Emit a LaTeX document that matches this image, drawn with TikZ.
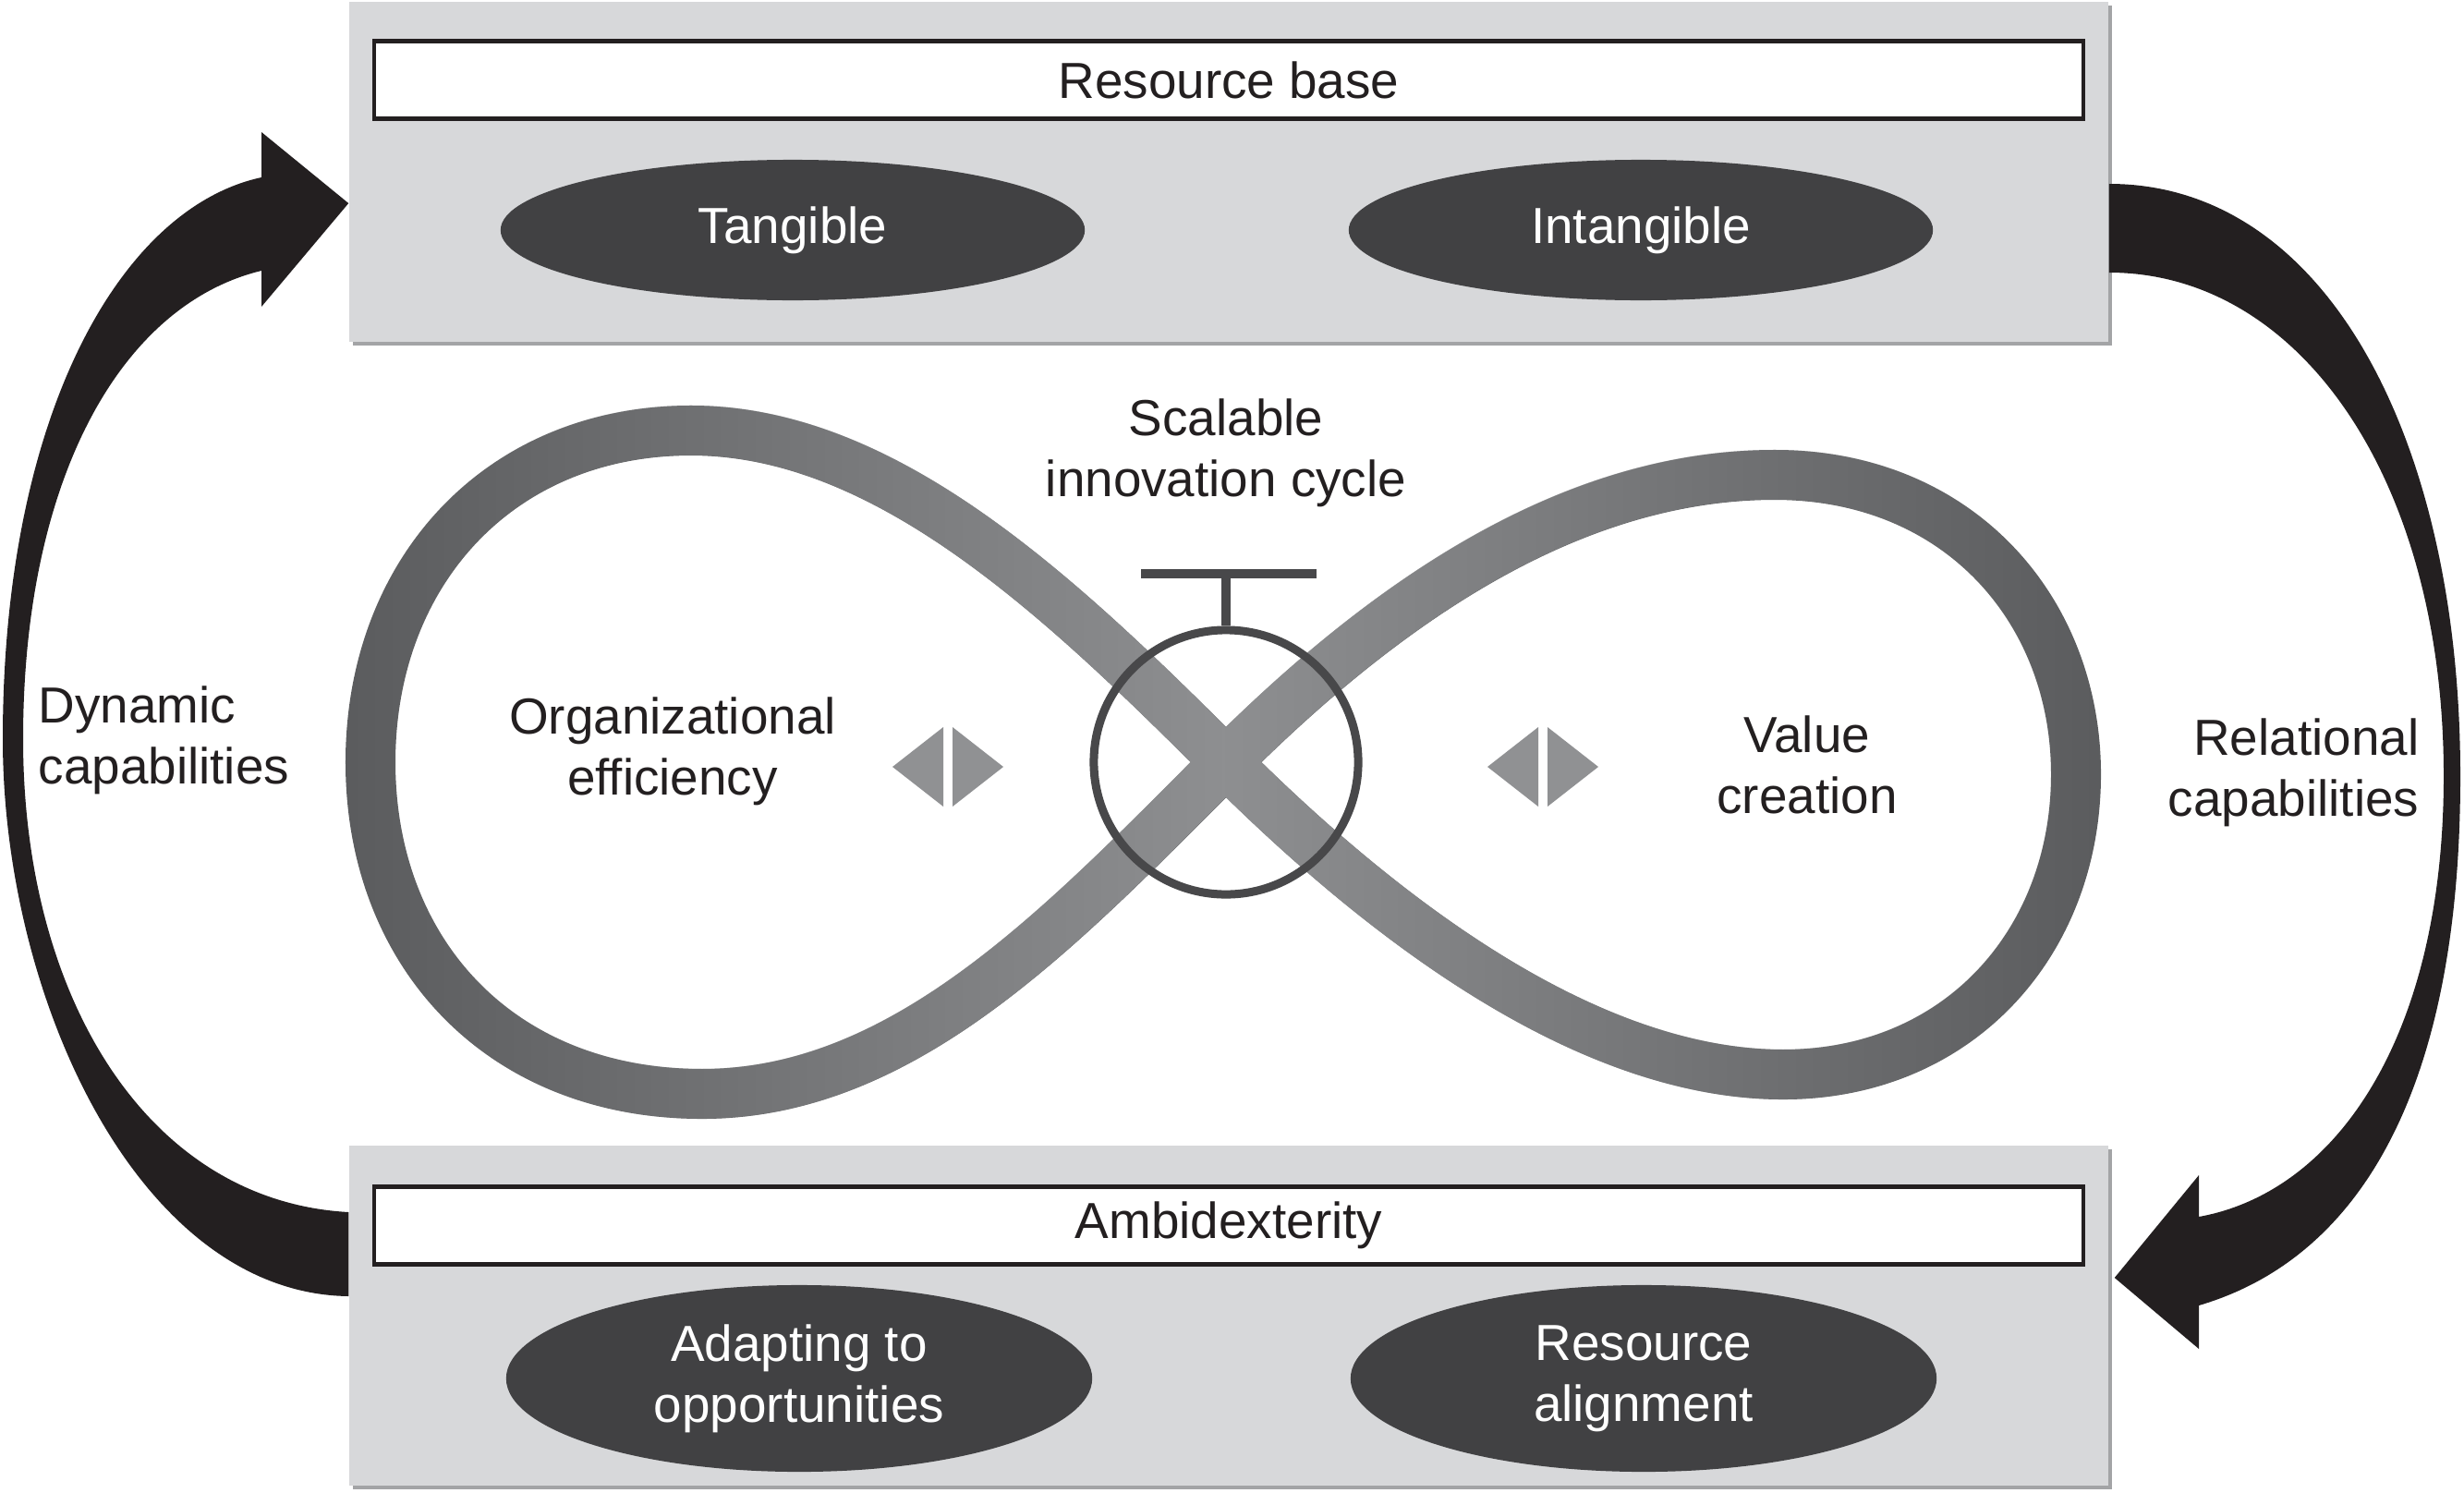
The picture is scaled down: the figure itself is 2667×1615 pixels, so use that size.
\documentclass[tikz,border=0pt]{standalone}
\usepackage{fontspec}
\setmainfont{Liberation Sans}
\usetikzlibrary{positioning,calc,shapes.geometric,shadows,fadings}

\definecolor{ink}{HTML}{231F20}
\definecolor{boxgray}{HTML}{D7D8DA}
\definecolor{boxedge}{HTML}{A3A4A6}
\definecolor{ovalgray}{HTML}{414143}
\definecolor{eightdark}{HTML}{5B5C5E}
\definecolor{eightlight}{HTML}{8E8F91}
\definecolor{ringgray}{HTML}{48484A}
\definecolor{markgray}{HTML}{909193}

\tikzfading[name=eightfade, left color=transparent!100, right color=transparent!100, middle color=transparent!0]

% figure-eight centre line, both loops through (C)
\newcommand{\eightloop}{%
    (C) .. controls (1150,648) and (960,466) .. (748,466)
        .. controls (540,466) and (401,620) .. (401,825)
        .. controls (401,1030) and (540,1184) .. (760,1184)
        .. controls (980,1184) and (1150,1002) .. (C)
        .. controls (1500,652) and (1700,514) .. (1921,514)
        .. controls (2120,514) and (2247,660) .. (2247,838)
        .. controls (2247,1020) and (2120,1163) .. (1930,1163)
        .. controls (1720,1163) and (1500,998) .. (C) -- cycle}

\begin{document}
\begin{tikzpicture}[
    x=0.01cm, y=-0.01cm,
    font=\fontsize{15.6}{18.7}\selectfont,
    panel/.style={
        rectangle,
        fill=boxgray,
        inner sep=0pt,
        minimum width=19.03cm,
        minimum height=3.68cm,
        drop shadow={shadow xshift=0.04cm, shadow yshift=-0.04cm, fill=boxedge, opacity=1}
    },
    titlebar/.style={
        rectangle,
        draw=ink,
        fill=white,
        text=ink,
        line width=0.045cm,
        inner sep=0pt,
        minimum width=18.49cm,
        minimum height=0.84cm
    },
    oval/.style={
        ellipse,
        fill=ovalgray,
        text=white,
        align=center,
        inner sep=0pt
    },
    plaintext/.style={text=ink, align=center, inner sep=0pt},
    capfill/.style={fill=ink},
    loopband/.style={draw=eightdark, line width=0.54cm},
    loopglow/.style={draw=eightlight, line width=0.54cm},
    markfill/.style={fill=markgray},
    ring/.style={circle, draw=ringgray, line width=0.09cm, inner sep=0pt, minimum size=2.86cm},
    ringline/.style={draw=ringgray, line width=0.1cm}
]
    \useasboundingbox (0,0) rectangle (2667,1615);

    % resource base panel
    \node[panel] (resbox) at (1330,186) {};
    \node[titlebar, below=0.41cm of resbox.north] (resbar) {Resource base};
    \node[oval, minimum width=6.32cm, minimum height=1.52cm] (tangible) at (858,249) {Tangible};
    \node[oval, minimum width=6.32cm, minimum height=1.52cm] (intangible) at (1776,249) {Intangible};

    % ambidexterity panel
    \node[panel] (ambibox) at (1330,1424) {};
    \node[titlebar, below=0.43cm of ambibox.north] (ambibar) {Ambidexterity};
    \node[oval, minimum width=6.34cm, minimum height=2.02cm] (adapting) at (865,1492) {Adapting to\\opportunities};
    \node[oval, minimum width=6.34cm, minimum height=2.02cm] (alignment) at (1779,1492) {Resource\\alignment};

    % dynamic capabilities arrow
    \fill[capfill]
        ($(ambibox.west)+(0,-21)$)
        .. controls (150,1400) and (3,1080) .. (3,800)
        .. controls (3,450) and (130,225) .. (283,192)
        -- (283,143) -- ($(resbox.west)+(0,34)$) -- (283,332) -- (283,293)
        .. controls (130,330) and (25,520) .. (25,800)
        .. controls (25,1080) and (160,1300) .. ($(ambibox.west)+(0,-112)$)
        -- cycle;

    % relational capabilities arrow
    \fill[capfill]
        ($(resbox.east)+(0,13)$)
        .. controls (2520,199) and (2663,480) .. (2663,840)
        .. controls (2663,1170) and (2560,1360) .. (2380,1413)
        -- (2380,1460) -- ($(ambibox.east)+(6,-41)$) -- (2380,1272) -- (2380,1317)
        .. controls (2530,1290) and (2645,1120) .. (2645,840)
        .. controls (2645,520) and (2490,295) .. ($(resbox.east)+(0,109)$)
        -- cycle;

    % innovation cycle
    \coordinate (C) at (1327,825);
    \draw[loopband] \eightloop;
    \draw[loopglow, path fading=eightfade] \eightloop;

    \foreach \mx in {1026,1670} {
        \fill[markfill, shift={(\mx,830)}]
            (-5,-43) -- (-5,43) -- (-60,0) -- cycle
            (5,-43) -- (5,43) -- (60,0) -- cycle;
    }

    \node[ring] (hub) at (C) {};
    \coordinate (barL) at (1235,621);
    \coordinate (barR) at (1425,621);
    \draw[ringline] (barL) -- (barR);
    \draw[ringline] (hub.north) -- (hub.north |- barL);

    % labels
    \node[plaintext] (scalable) at (1327,490) {Scalable\\innovation cycle};
    \node[plaintext] (orgeff) at (728,813) {Organizational\\efficiency};
    \node[plaintext] (valuecr) at (1956,828) {Value\\creation};
    \node[plaintext, anchor=west, align=left] (dyncap) at (41,801) {Dynamic\\capabilities};
    \node[plaintext, anchor=east, align=right] (relcap) at (2619,836) {Relational\\capabilities};

\end{tikzpicture}
\end{document}
